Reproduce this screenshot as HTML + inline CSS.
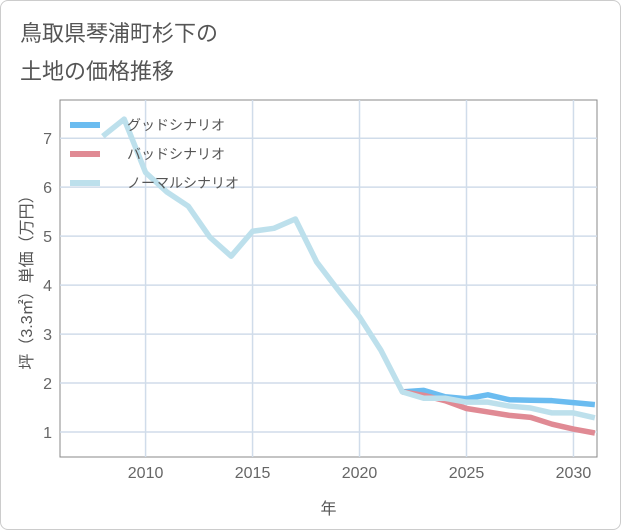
<!DOCTYPE html>
<html><head><meta charset="utf-8"><style>
body{margin:0;background:#fff;font-family:"Liberation Sans","Noto Sans CJK JP",sans-serif}
#wrap{position:relative;width:619px;height:528px;border:1px solid #ccc;border-radius:8px;background:#fff}
.t{position:absolute;left:19px;font-size:22px;color:#555}
</style></head><body>
<div id="wrap">
<div class="t" style="top:15px">鳥取県琴浦町杉下の</div>
<div class="t" style="top:53px">土地の価格推移</div>
<svg id="c" width="621" height="530" style="position:absolute;left:-1px;top:-1px"></svg>
</div>
<script>
const years=[2008,2009,2010,2011,2012,2013,2014,2015,2016,2017,2018,2019,2020,2021,2022,2023,2024,2025,2026,2027,2028,2029,2030,2031];
const normal=[7.04,7.39,6.3,5.9,5.61,4.98,4.59,5.1,5.16,5.35,4.47,3.9,3.35,2.67,1.82,1.69,1.69,1.61,1.61,1.53,1.49,1.39,1.39,1.29];
const futYears=[2022,2023,2024,2025,2026,2027,2028,2029,2030,2031];
const good=[1.82,1.85,1.72,1.68,1.76,1.66,1.65,1.64,1.6,1.56];
const bad=[1.82,1.75,1.64,1.48,1.41,1.34,1.30,1.16,1.06,0.98];
const xTicks=[2010,2015,2020,2025,2030];
const yTicks=[1,2,3,4,5,6,7];
const L=60,R=597,T=100,B=457,xMin=2006,xMax=2031.1,yMin=0.49,yMax=7.78;
const X=v=>L+(v-xMin)/(xMax-xMin)*(R-L), Y=v=>B-(v-yMin)/(yMax-yMin)*(B-T);
const s=document.getElementById('c'),NS='http://www.w3.org/2000/svg';
function el(t,a,p){const e=document.createElementNS(NS,t);for(const k in a)e.setAttribute(k,a[k]);(p||s).appendChild(e);return e;}
let e=el('rect',{x:L,y:T,width:R-L,height:B-T,fill:'none',stroke:'#888','stroke-width':1});

xTicks.forEach(v=>{let g=el('line',{x1:X(v),x2:X(v),y1:T,y2:B,stroke:'#d0dcea','stroke-width':1.5});

let t=el('text',{x:X(v),y:B+21,'text-anchor':'middle','font-size':16,fill:'#666'});t.textContent=v;
});
yTicks.forEach(v=>{let g=el('line',{x1:L,x2:R,y1:Y(v),y2:Y(v),stroke:'#d0dcea','stroke-width':1.5});

let t=el('text',{x:L-8,y:Y(v)+6,'text-anchor':'end','font-size':16,fill:'#666'});t.textContent=v;
});
function line(xs,ys,c,n){let p=el('polyline',{points:xs.map((x,i)=>X(x)+','+Y(ys[i])).join(' '),fill:'none',stroke:c,'stroke-width':5.5,'stroke-linejoin':'round'});
}
const cp=el('clipPath',{id:'cp'});el('rect',{x:L,y:T,width:R-L,height:B-T},cp);
line(futYears,good,'#6bbcf0','good-scenario-line');
line(futYears,bad,'#e08a94','bad-scenario-line');
line(years,normal,'#bde0ec','normal-scenario-line');
s.querySelectorAll('polyline').forEach(p=>p.setAttribute('clip-path','url(#cp)'));
const leg=[['グッドシナリオ','#6bbcf0'],['バッドシナリオ','#e08a94'],['ノーマルシナリオ','#bde0ec']];
leg.forEach((l,i)=>{const y=125+i*29;
let b=el('rect',{x:70,y:y-3,width:30,height:6,fill:l[1]});
let t=el('text',{x:127,y:y+5,'font-size':14,fill:'#555'});t.textContent=l[0];
});
let xt=el('text',{x:(L+R)/2,y:514,'text-anchor':'middle','font-size':16,fill:'#555'});xt.textContent='年';

let yt=el('text',{x:0,y:0,'text-anchor':'middle','font-size':16,fill:'#555',transform:`translate(32,${(T+B)/2}) rotate(-90)`});yt.textContent='坪（3.3㎡）単価（万円）';

</script>
</body></html>
